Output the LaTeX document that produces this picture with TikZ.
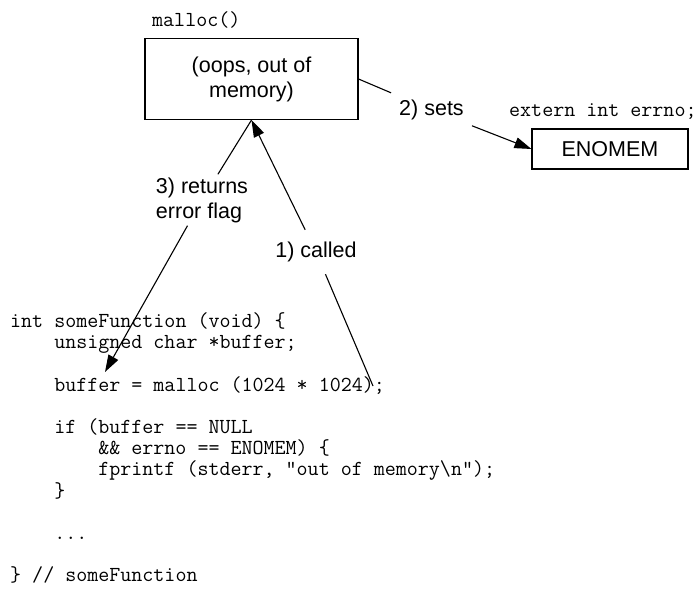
\documentclass[tikz,border=0pt]{standalone}
\usepackage{fontspec}
\setmainfont{Liberation Sans}
\usepackage{tikz}
\usetikzlibrary{arrows.meta, positioning}
\newcommand{\codeindent}{\phantom{0000}}

\begin{document}
\begin{tikzpicture}[x=1pt, y=-1pt,
		box/.style={draw, line width=1.1pt, inner sep=0pt, align=center, font=\fontsize{21.5}{25}\selectfont},
		lbl/.style={inner sep=8pt, align=left, font=\fontsize{21.5}{25}\selectfont},
		code/.style={anchor=base west, inner sep=0pt, font=\ttfamily\fontsize{21.4}{21.2}\selectfont},
		conn/.style={line width=1.1pt},
		flow/.style={conn, -{Triangle[length=17pt, width=11pt]}}]
			% Page frame
			\path[fill=white] (0,0) rectangle (696,589);
			\useasboundingbox (0,0) rectangle (696,589);

			% Boxes and their tags
			\node[box, minimum width=213pt, minimum height=81pt] (mallocbox) at (251.5,79) {(oops, out of\\memory)};
			\node[code] (malloctag) at (152,27) {malloc()};
			\node[box, minimum width=156pt, minimum height=40pt] (enomem) at (610,149) {ENOMEM};
			\node[code] (errnotag) at (509,116) {extern int errno;};

			% Labels on the connectors
			\node[lbl] (sets) at (431.5,110) {2) sets};
			\node[lbl, inner ysep=3pt] (returns) at (202,200) {3) returns\\error flag};
			\node[lbl, inner ysep=12pt] (called) at (316,252) {1) called};

			% The calling code, one node per line
			\foreach \ln/\txt in {0/{int someFunction (void) \{},
				1/{\codeindent unsigned char *buffer;},
				3/{\codeindent buffer = malloc (1024 * 1024);},
				5/{\codeindent if (buffer == NULL},
				6/{\codeindent\codeindent \&\& errno == ENOMEM) \{},
				7/{\codeindent\codeindent fprintf (stderr, "out of memory\textbackslash n");},
				8/{\codeindent \}},
				10/{\codeindent ...},
				12/{\} // someFunction}}
				\node[code] (line\ln) at (10,{327.5+21.2*\ln}) {\txt};

			% Free ends in the code
			\coordinate (bufvar) at (105,372);
			\coordinate (callsite) at (373,386);

			% Connectors
			\draw[conn] (mallocbox.east) -- (sets);
			\draw[flow] (sets) -- (enomem.west);
			\draw[flow] (callsite) -- (called) -- (mallocbox.south);
			\draw[flow] (mallocbox.south) -- (returns) -- (bufvar);

		\end{tikzpicture}
\end{document}
